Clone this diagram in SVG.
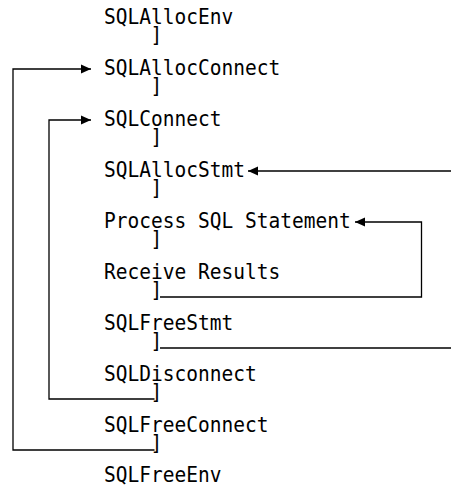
<svg xmlns="http://www.w3.org/2000/svg" width="451" height="486" viewBox="0 0 451 486">
  <style>
    .t { font-family: "DejaVu Sans Mono", "Liberation Mono", monospace; font-size: 21px; fill: #000; }
    .c { fill: none; stroke: #000; stroke-width: 1.3; }
  </style>
  <defs>
    <marker id="ah" viewBox="0 0 10 10" refX="10" refY="5" markerWidth="10" markerHeight="10" markerUnits="userSpaceOnUse" orient="auto">
      <path d="M0,0.5 L10,5 L0,9.5 Z" fill="#000"/>
    </marker>
  </defs>
  <rect width="451" height="486" fill="#fff"/>

  <!-- call sequence steps (glyphs narrowed slightly) -->
  <g id="n-allocenv"><text class="t" transform="translate(104,24) scale(0.93,1)">SQLAllocEnv</text></g>
  <g id="b-0"><text class="t" transform="translate(150.5,42) scale(0.93,1)">]</text></g>
  <g id="n-allocconnect"><text class="t" transform="translate(104,75) scale(0.93,1)">SQLAllocConnect</text></g>
  <g id="b-1"><text class="t" transform="translate(150.5,93) scale(0.93,1)">]</text></g>
  <g id="n-connect"><text class="t" transform="translate(104,126) scale(0.93,1)">SQLConnect</text></g>
  <g id="b-2"><text class="t" transform="translate(150.5,144) scale(0.93,1)">]</text></g>
  <g id="n-allocstmt"><text class="t" transform="translate(104,177) scale(0.93,1)">SQLAllocStmt</text></g>
  <g id="b-3"><text class="t" transform="translate(150.5,195) scale(0.93,1)">]</text></g>
  <g id="n-process"><text class="t" transform="translate(104,228) scale(0.93,1)">Process SQL Statement</text></g>
  <g id="b-4"><text class="t" transform="translate(150.5,246) scale(0.93,1)">]</text></g>
  <g id="n-receive"><text class="t" transform="translate(104,279) scale(0.93,1)">Receive Results</text></g>
  <g id="b-5"><text class="t" transform="translate(150.5,297) scale(0.93,1)">]</text></g>
  <g id="n-freestmt"><text class="t" transform="translate(104,330) scale(0.93,1)">SQLFreeStmt</text></g>
  <g id="b-6"><text class="t" transform="translate(150.5,348) scale(0.93,1)">]</text></g>
  <g id="n-disconnect"><text class="t" transform="translate(104,381) scale(0.93,1)">SQLDisconnect</text></g>
  <g id="b-7"><text class="t" transform="translate(150.5,399) scale(0.93,1)">]</text></g>
  <g id="n-freeconnect"><text class="t" transform="translate(104,432) scale(0.93,1)">SQLFreeConnect</text></g>
  <g id="b-8"><text class="t" transform="translate(150.5,450) scale(0.93,1)">]</text></g>
  <g id="n-freeenv"><text class="t" transform="translate(104,482) scale(0.93,1)">SQLFreeEnv</text></g>

  <!-- loops -->
  <g id="connectors">
    <path class="c" d="M154.5,450 H13 V69 H91" marker-end="url(#ah)"/>
    <path class="c" d="M154.5,399 H49 V120 H91" marker-end="url(#ah)"/>
    <path class="c" d="M451,171 H248" marker-end="url(#ah)"/>
    <path class="c" d="M160,297 H421.5 V222 H355" marker-end="url(#ah)"/>
    <path class="c" d="M160,348 H451"/>
  </g>
</svg>
